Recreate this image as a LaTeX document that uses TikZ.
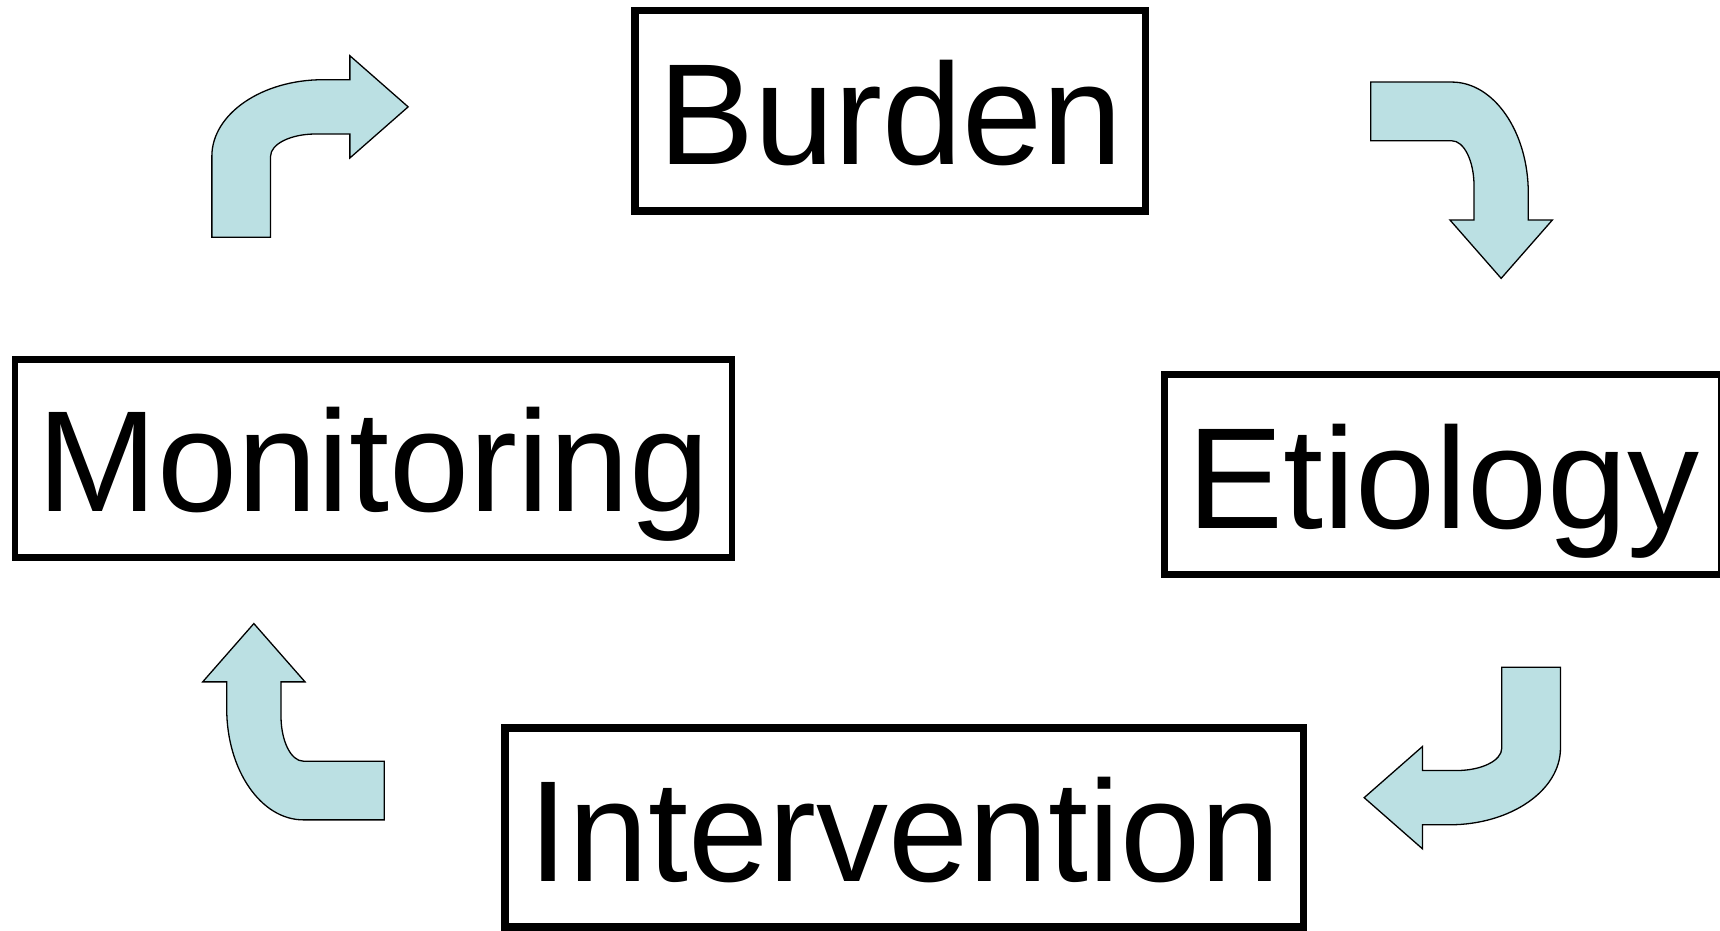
\documentclass[tikz,border=0pt]{standalone}
\usepackage{fontspec}
\setmainfont{Liberation Sans}
\definecolor{arrowfill}{RGB}{187,224,227}
\tikzset{
  stagebox/.style={draw=black, line width=7.5pt, inner sep=0pt, text height=107pt, text depth=0pt,
    font=\fontsize{144}{160}\selectfont},
  bent/.style={fill=arrowfill, draw=black, line width=1.3pt, line join=miter},
  bentarrow/.pic={
    \draw[bent] (-90.8,-98.15) -- (-9.8,-98.15)
      .. controls (32.5,-98.15) and (66.8,-48.3) .. (66.8,13.15)
      -- (66.8,39.85) -- (90.8,39.85) -- (39.65,98.15) -- (-11.5,39.85) -- (12.5,39.85)
      -- (12.5,5.55) .. controls (12.5,-19.3) and (2.5,-39.45) .. (-9.8,-39.45)
      -- (-90.8,-39.45) -- cycle;
  }
}
\begin{document}
\begin{tikzpicture}[x=1pt,y=-1pt]
\useasboundingbox (0,0) rectangle (1720,930);
\node[stagebox, minimum width=510.5pt, minimum height=200.5pt] (burden) at (890.25,110.75) {Burden};
\node[stagebox, line width=6.5pt, minimum width=716.8pt, minimum height=198pt] (monitoring) at (373.6,458.4) {Monitoring};
\node[stagebox, minimum width=557.5pt, minimum height=199.8pt] (etiology) at (1443.25,474.6) {Etiology};
\node[stagebox, minimum width=798.9pt, minimum height=198.8pt] (intervention) at (904.25,827.6) {Intervention};
\pic[rotate=90] (arrowMB) at (310,146.5) {bentarrow};
\pic (arrowBE) at (1461.5,180.2) {bentarrow};
\pic[rotate=-90] (arrowEI) at (1462.3,758) {bentarrow};
\pic[rotate=180] (arrowIM) at (293.5,721.7) {bentarrow};
\end{tikzpicture}
\end{document}
